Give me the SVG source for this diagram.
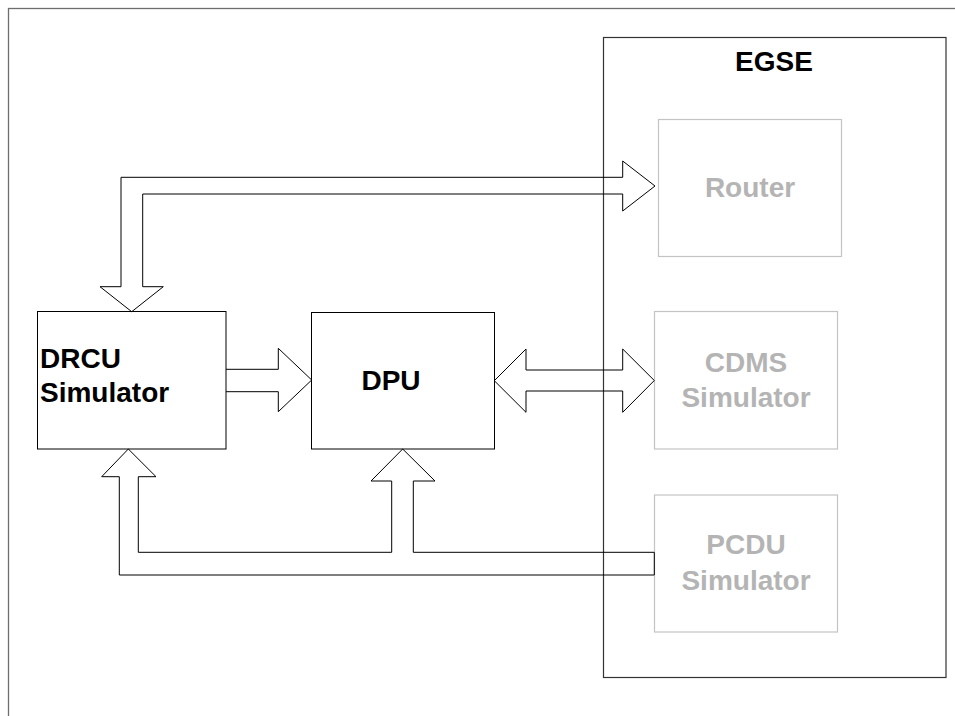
<svg xmlns="http://www.w3.org/2000/svg" width="955" height="716" viewBox="0 0 955 716">
<style>
.t{font-family:"Liberation Sans",Arial,sans-serif;font-weight:bold;font-size:28px}
.blk{fill:#000}
.gry{fill:#b4b4b4}
.box{fill:none;stroke:#000;stroke-width:1}
.gbox{fill:none;stroke:#c4c4c4;stroke-width:1.2}
.arr{fill:none;stroke:#000;stroke-width:1;stroke-linejoin:miter}
</style>
<rect x="0" y="0" width="955" height="716" fill="#fff"/>
<rect id="frame" x="8.5" y="8.5" width="960" height="720" fill="none" stroke="#6e6e6e" stroke-width="1.3"/>
<g id="egse">
<rect x="603.5" y="37.5" width="342.5" height="640" fill="none" stroke="#333" stroke-width="1.2"/>
<text class="t blk" x="774" y="71" text-anchor="middle">EGSE</text>
</g>
<g id="router">
<rect class="gbox" x="658.5" y="119.5" width="183" height="137"/>
<text class="t gry" x="750" y="197" text-anchor="middle">Router</text>
</g>
<g id="cdms">
<rect class="gbox" x="654.5" y="311.5" width="183" height="137.5"/>
<text class="t gry" x="746" y="372" text-anchor="middle">CDMS</text>
<text class="t gry" x="746" y="407" text-anchor="middle">Simulator</text>
</g>
<g id="pcdu">
<rect class="gbox" x="654.5" y="495" width="183" height="137"/>
<text class="t gry" x="746" y="553.5" text-anchor="middle">PCDU</text>
<text class="t gry" x="746" y="589.5" text-anchor="middle">Simulator</text>
</g>
<g id="drcu">
<rect class="box" x="37.5" y="311.5" width="188.5" height="137.5"/>
<text class="t blk" x="40" y="368">DRCU</text>
<text class="t blk" x="40" y="402">Simulator</text>
</g>
<g id="dpu">
<rect class="box" x="311.5" y="312.5" width="183" height="136.5"/>
<text class="t blk" x="391" y="390" text-anchor="middle">DPU</text>
</g>
<g id="connectors">
<path class="arr" d="M121,286.7 L121,177.3 L622.7,177.3 L622.7,161 L655,186 L622.7,211 L622.7,194 L142.7,194 L142.7,286.7 L163.3,286.7 L131.7,311.7 L100,286.7 Z"/>
<path class="arr" d="M226,369.3 L278.3,369.3 L278.3,348.3 L311.7,380 L278.3,411.7 L278.3,391.7 L226,391.7"/>
<path class="arr" d="M494.3,380.7 L526,349 L526,370 L622.7,370 L622.7,349 L654.3,380.5 L622.7,412.3 L622.7,391 L526,391 L526,412.3 Z"/>
<path class="arr" d="M654.3,552.3 L413.3,552.3 L413.3,481 L435,481 L402.7,449 L371,481 L391.7,481 L391.7,552.3 L138.3,552.3 L138.3,476.7 L156,476.7 L128.3,449 L101.7,476.7 L119.3,476.7 L119.3,575 L654.3,575 Z"/>
</g>
</svg>
